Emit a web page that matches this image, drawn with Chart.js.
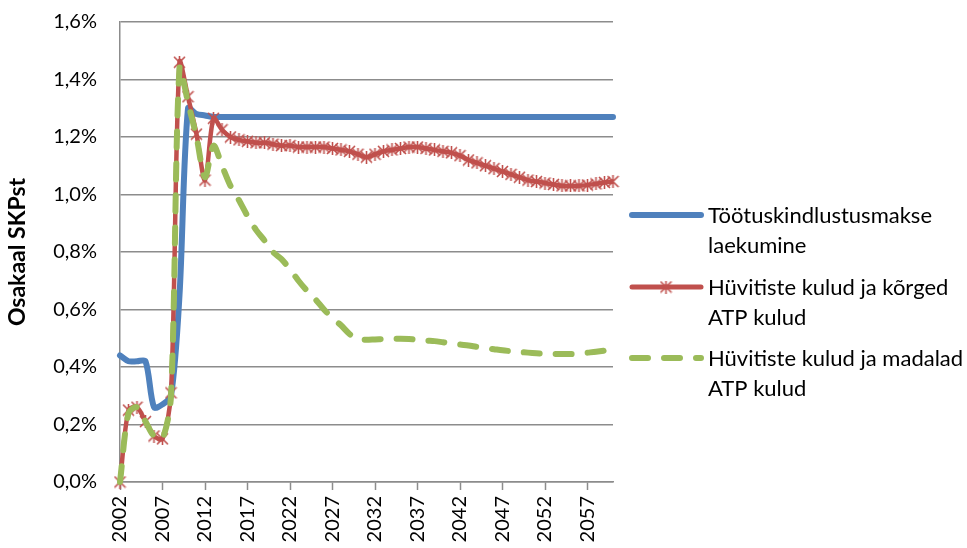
<!DOCTYPE html>
<html>
<head>
<meta charset="utf-8">
<script src="https://cdn.jsdelivr.net/npm/chart.js@4"></script>
<style>
  html, body { margin: 0; padding: 0; background: #fff; }
</style>
</head>
<body>
<canvas id="chart" width="967" height="548"></canvas>
<script>
// Years on the category axis
const years = [
  '2002','2003','2004','2005','2006','2007','2008','2009','2010','2011',
  '2012','2013','2014','2015','2016','2017','2018','2019','2020','2021',
  '2022','2023','2024','2025','2026','2027','2028','2029','2030','2031',
  '2032','2033','2034','2035','2036','2037','2038','2039','2040','2041',
  '2042','2043','2044','2045','2046','2047','2048','2049','2050','2051',
  '2052','2053','2054','2055','2056','2057','2058','2059','2060'
];
// Only these years get a label
const shownYears = ['2002','2007','2012','2017','2022','2027','2032','2037','2042','2047','2052','2057'];

// Share of GDP, %
const laekumine = [
  0.44, 0.42, 0.42, 0.42, 0.26, 0.27, 0.30, 0.65, 1.30, 1.28,
  1.275, 1.27, 1.27, 1.27, 1.27, 1.27, 1.27, 1.27, 1.27, 1.27,
  1.27, 1.27, 1.27, 1.27, 1.27, 1.27, 1.27, 1.27, 1.27, 1.27,
  1.27, 1.27, 1.27, 1.27, 1.27, 1.27, 1.27, 1.27, 1.27, 1.27,
  1.27, 1.27, 1.27, 1.27, 1.27, 1.27, 1.27, 1.27, 1.27, 1.27,
  1.27, 1.27, 1.27, 1.27, 1.27, 1.27, 1.27, 1.27, 1.27
];
const korgedKulud = [
  0, 0.25, 0.26, 0.21, 0.16, 0.15, 0.31, 1.46, 1.34, 1.21,
  1.05, 1.265, 1.225, 1.20, 1.19, 1.185, 1.18, 1.18, 1.175, 1.17,
  1.17, 1.165, 1.165, 1.165, 1.165, 1.16, 1.155, 1.15, 1.14, 1.13,
  1.14, 1.15, 1.155, 1.16, 1.165, 1.165, 1.16, 1.155, 1.15, 1.145,
  1.135, 1.12, 1.11, 1.10, 1.09, 1.08, 1.07, 1.06, 1.05, 1.045,
  1.04, 1.035, 1.03, 1.03, 1.03, 1.033, 1.037, 1.042, 1.045
];
const madaladKulud = [
  0, 0.24, 0.26, 0.21, 0.16, 0.15, 0.30, 1.44, 1.32, 1.20,
  1.06, 1.17, 1.10, 1.03, 0.98, 0.925, 0.877, 0.84, 0.80, 0.775,
  0.74, 0.70, 0.665, 0.635, 0.60, 0.57, 0.545, 0.515, 0.495, 0.495,
  0.496, 0.497, 0.498, 0.498, 0.497, 0.495, 0.492, 0.49, 0.486, 0.482,
  0.478, 0.475, 0.47, 0.466, 0.462, 0.458, 0.455, 0.452, 0.45, 0.448,
  0.446, 0.445, 0.445, 0.445, 0.447, 0.45, 0.453, 0.457, 0.462
];

const BLUE = '#4f81bd';
const RED = '#c0504d';
const GREEN = '#9bbb59';
const GRID = '#8c8c8c';

Chart.defaults.font.family = 'Lato, "Open Sans", sans-serif';
Chart.defaults.color = '#000';

// Excel style star marker: an X with a vertical stroke
function makeStar(size, color) {
  const c = document.createElement('canvas');
  c.width = size; c.height = size;
  const g = c.getContext('2d');
  g.strokeStyle = color;
  g.lineWidth = 1.6;
  g.beginPath();
  g.moveTo(1, 1); g.lineTo(size - 1, size - 1);
  g.moveTo(size - 1, 1); g.lineTo(1, size - 1);
  g.moveTo(size / 2, 0); g.lineTo(size / 2, size);
  g.stroke();
  return c;
}
const starMark = makeStar(13, RED);

// legend drawn at the right side, two lines per entry
const sideLegend = {
  id: 'sideLegend',
  afterDraw(chart) {
    const g = chart.ctx;
    const x0 = chart.chartArea.right + 17;
    const items = [
      { lines: ['Töötuskindlustusmakse', 'laekumine'], y: 215, kind: 'blue' },
      { lines: ['Hüvitiste kulud ja kõrged', 'ATP kulud'], y: 287, kind: 'red' },
      { lines: ['Hüvitiste kulud ja madalad', 'ATP kulud'], y: 358, kind: 'green' }
    ];
    g.save();
    items.forEach(it => {
      g.lineCap = 'round';
      if (it.kind === 'blue') {
        g.strokeStyle = BLUE; g.lineWidth = 6;
        g.beginPath(); g.moveTo(x0 + 2, it.y); g.lineTo(x0 + 71, it.y); g.stroke();
      } else if (it.kind === 'red') {
        g.strokeStyle = RED; g.lineWidth = 5;
        g.beginPath(); g.moveTo(x0 + 2, it.y); g.lineTo(x0 + 71, it.y); g.stroke();
        g.drawImage(starMark, x0 + 36 - 6.5, it.y - 6.5);
      } else {
        g.strokeStyle = GREEN; g.lineWidth = 6;
        g.setLineDash([16, 16]);
        g.beginPath(); g.moveTo(x0 + 2, it.y); g.lineTo(x0 + 71, it.y); g.stroke();
        g.setLineDash([]);
      }
      g.fillStyle = '#000';
      g.font = '22px Lato, "Open Sans", sans-serif';
      g.textBaseline = 'alphabetic';
      g.textAlign = 'left';
      it.lines.forEach((t, i) => g.fillText(t, x0 + 78, it.y + 8 + i * 30));
    });
    g.restore();
  }
};

new Chart(document.getElementById('chart').getContext('2d'), {
  type: 'line',
  data: {
    labels: years,
    datasets: [
      {
        label: 'Töötuskindlustusmakse laekumine',
        data: laekumine,
        borderColor: BLUE,
        borderWidth: 6,
        borderCapStyle: 'round',
        pointRadius: 0,
        tension: 0.3,
        order: 3,
        clip: 8
      },
      {
        label: 'Hüvitiste kulud ja kõrged ATP kulud',
        data: korgedKulud,
        borderColor: RED,
        borderWidth: 4.5,
        pointStyle: starMark,
        pointRadius: 6,
        tension: 0.3,
        order: 2,
        clip: 8
      },
      {
        label: 'Hüvitiste kulud ja madalad ATP kulud',
        data: madaladKulud,
        borderColor: GREEN,
        borderWidth: 6,
        borderDash: [16, 16],
        borderCapStyle: 'round',
        pointRadius: 0,
        tension: 0.3,
        order: 1,
        clip: 8
      }
    ]
  },
  options: {
    responsive: false,
    animation: false,
    layout: { padding: { top: 22, right: 354, left: 0, bottom: 0 } },
    plugins: {
      legend: { display: false },
      tooltip: { enabled: false }
    },
    scales: {
      x: {
        offset: false,
        afterFit(s) {
          s.height = 66;
          s.paddingTop = 0; s.paddingBottom = 0;
          s.paddingLeft = 0; s.paddingRight = 0;
        },
        border: { color: GRID, width: 1.5 },
        grid: {
          drawOnChartArea: false,
          drawTicks: true,
          tickLength: 8,
          tickColor: ctx => shownYears.includes(years[ctx.index]) ? GRID : 'rgba(0,0,0,0)',
          tickWidth: 1.5
        },
        ticks: {
          autoSkip: false,
          minRotation: 90,
          maxRotation: 90,
          padding: 6,
          font: { size: 20 },
          callback(value, index) {
            const y = years[index];
            return shownYears.includes(y) ? y : '';
          }
        }
      },
      y: {
        min: 0,
        max: 1.6,
        afterFit(s) {
          s.width = 120;
          s.paddingTop = 0; s.paddingBottom = 0;
          s.paddingLeft = 0; s.paddingRight = 0;
        },
        border: { color: GRID, width: 1.5 },
        grid: { color: GRID, lineWidth: 1.5, drawTicks: false },
        title: {
          display: true,
          text: 'Osakaal SKPst',
          font: { size: 23, weight: 'bold' },
          padding: { top: 4, bottom: 0 }
        },
        ticks: {
          stepSize: 0.2,
          padding: 23,
          font: { size: 20 },
          callback: v => v.toFixed(1).replace('.', ',') + '%'
        }
      }
    }
  },
  plugins: [sideLegend]
});
</script>
</body>
</html>
